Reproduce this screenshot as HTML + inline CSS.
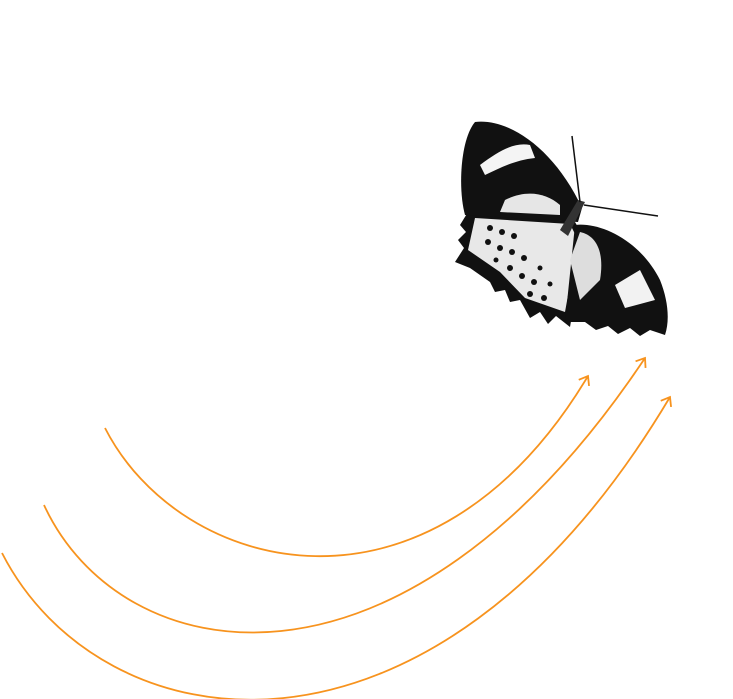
<!DOCTYPE html>
<html><head><style>html,body{margin:0;padding:0;background:#fff;width:733px;height:699px;overflow:hidden}</style></head>
<body>
<svg width="733" height="699" viewBox="0 0 733 699" xmlns="http://www.w3.org/2000/svg">
<defs>
<marker id="a" markerWidth="14" markerHeight="14" refX="10" refY="7" orient="auto" markerUnits="userSpaceOnUse">
<path d="M2,1 L10,7 L2,13" fill="none" stroke="#f7931e" stroke-width="1.8"/>
</marker>
</defs>
<g fill="none" stroke="#f7931e" stroke-width="1.8">
<path d="M105,428 C180,575 430,640 588,376" marker-end="url(#a)"/>
<path d="M44,505 C120,670 400,725 645,358" marker-end="url(#a)"/>
<path d="M2,553 C100,745 430,800 670,397" marker-end="url(#a)"/>
</g>
<g>
<path d="M575,222 L468,212 L460,225 L466,232 L458,240 L464,248 L455,262 L470,268 L490,282 L495,292 L505,290 L510,302 L520,300 L530,318 L540,312 L548,324 L556,316 L570,327 L585,240 Z" fill="#111"/>
<path d="M570,224 L475,218 L468,250 L500,272 L525,298 L565,312 L578,240 Z" fill="#e8e8e8"/>
<g fill="#111">
<circle cx="490" cy="228" r="3"/><circle cx="502" cy="232" r="3"/><circle cx="514" cy="236" r="3"/>
<circle cx="488" cy="242" r="3"/><circle cx="500" cy="248" r="3"/><circle cx="512" cy="252" r="3"/>
<circle cx="524" cy="258" r="3"/><circle cx="496" cy="260" r="2.5"/><circle cx="510" cy="268" r="3"/>
<circle cx="522" cy="276" r="3"/><circle cx="534" cy="282" r="3"/><circle cx="530" cy="294" r="3"/>
<circle cx="544" cy="298" r="3"/><circle cx="550" cy="284" r="2.5"/><circle cx="540" cy="268" r="2.5"/>
</g>
<path d="M575,225 C600,222 640,240 660,280 C668,300 670,320 665,335 L650,330 L640,336 L630,328 L618,334 L608,326 L596,330 L585,322 L565,322 Z" fill="#111"/>
<path d="M580,232 C595,235 605,250 600,280 L580,300 L570,260 Z" fill="#ddd"/>
<path d="M615,285 L640,270 L655,300 L625,308 Z" fill="#f2f2f2"/>
<path d="M582,208 C555,150 510,118 475,122 C460,140 458,190 465,215 L578,222 Z" fill="#111"/>
<path d="M480,165 C500,150 515,142 530,145 L535,158 C515,160 500,168 485,175 Z" fill="#f4f4f4"/>
<path d="M505,200 C525,190 545,192 560,205 L560,215 L500,212 Z" fill="#e6e6e6"/>
<path d="M585,202 L578,200 L560,230 L568,236 Z" fill="#333"/>
<path d="M580,202 L572,136 M584,205 L658,216" stroke="#111" stroke-width="1.5" fill="none"/>
</g>
</svg>
</body></html>
